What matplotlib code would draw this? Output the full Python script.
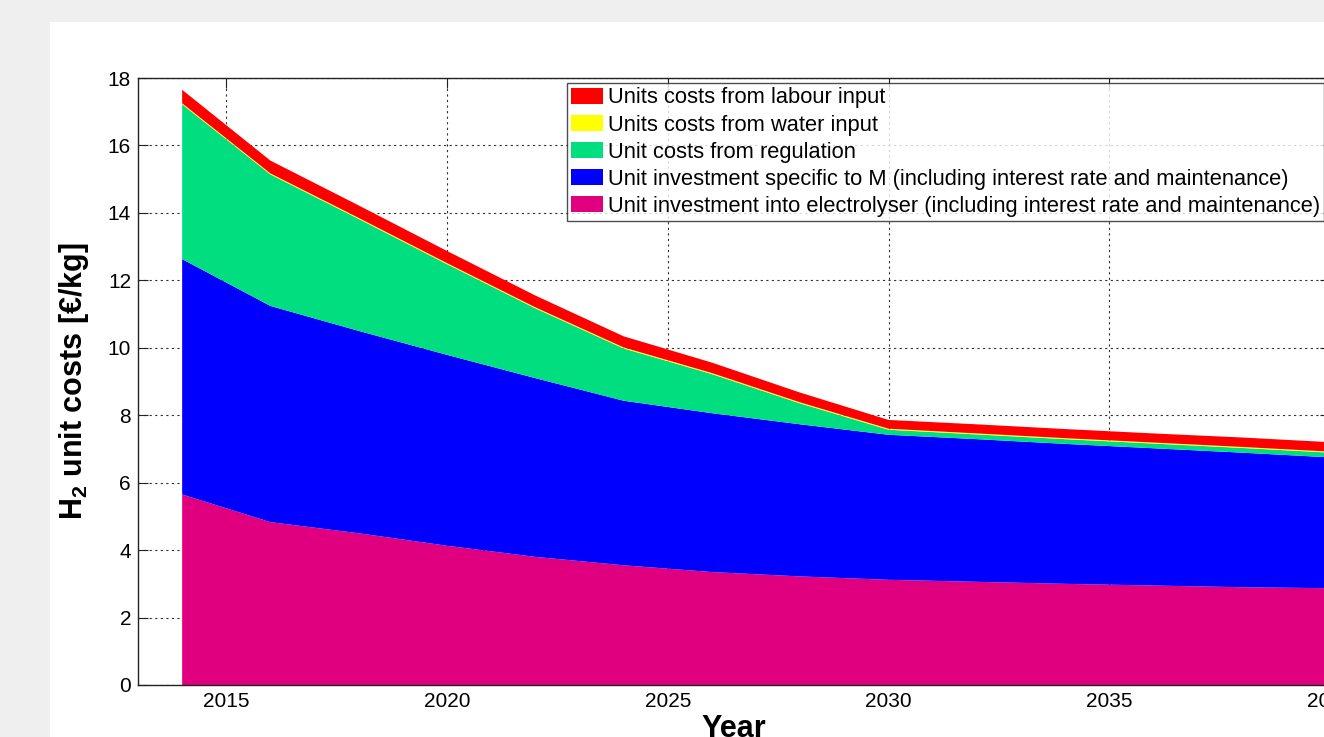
import matplotlib
matplotlib.use("Agg")
import matplotlib.pyplot as plt
from matplotlib.patches import Rectangle
import numpy as np

plt.rcParams['font.family'] = ['Liberation Sans', 'DejaVu Sans']
plt.rcParams['mathtext.fontset'] = 'custom'
plt.rcParams['mathtext.rm'] = 'Liberation Sans'
plt.rcParams['mathtext.bf'] = 'Liberation Sans:bold'

# Cost components per year [EUR/kg H2]
years = [2014, 2016, 2018, 2020, 2022, 2024, 2026, 2028, 2030, 2032, 2034, 2036, 2038, 2040]
electrolyser = [5.65, 4.83, 4.50, 4.13, 3.80, 3.55, 3.35, 3.22, 3.12, 3.06, 3.00, 2.95, 2.90, 2.87]
specific_m = [6.98, 6.41, 6.00, 5.66, 5.30, 4.88, 4.71, 4.51, 4.30, 4.23, 4.15, 4.07, 3.99, 3.88]
regulation = [4.59, 3.90, 3.32, 2.69, 2.07, 1.55, 1.16, 0.62, 0.15, 0.14, 0.14, 0.14, 0.14, 0.14]
water = [0.03, 0.03, 0.03, 0.03, 0.03, 0.03, 0.03, 0.03, 0.03, 0.03, 0.03, 0.03, 0.03, 0.03]
labour = [0.40, 0.38, 0.37, 0.36, 0.35, 0.33, 0.31, 0.29, 0.26, 0.27, 0.27, 0.27, 0.28, 0.28]

labels = [
    "Unit investment into electrolyser (including interest rate and maintenance)",
    "Unit investment specific to M (including interest rate and maintenance)",
    "Unit costs from regulation",
    "Units costs from water input",
    "Units costs from labour input",
]
colors = ["#E0007F", "#0000FF", "#00DE80", "#FFFF00", "#FF0000"]

x_ticks = [2015, 2020, 2025, 2030, 2035, 2040]
y_ticks = list(range(0, 19, 2))

W, H = 1324, 737
fig = plt.figure(figsize=(W / 100, H / 100), dpi=100, facecolor="#EFEFEF")
# white slide panel behind the chart
fig.patches.append(Rectangle((50 / W, 0), 1 - 50 / W, 1 - 22 / H,
                             transform=fig.transFigure, facecolor="white",
                             edgecolor="none", zorder=-10))

ax = fig.add_axes([138 / W, (H - 685) / H, (1330 - 138) / W, (685 - 78) / H])
ax.set_facecolor("white")

ax.stackplot(years, electrolyser, specific_m, regulation, water, labour,
             colors=colors, labels=labels, linewidth=0, zorder=2)

ax.set_xlim(2013, 2040)
ax.set_ylim(0, 18)
ax.set_xticks(x_ticks)
ax.set_yticks(y_ticks)
ax.tick_params(axis="both", which="both", direction="in", length=7, width=0.8,
               labelsize=15, top=True, right=True, pad=5, colors="#222222",
               labelcolor="black")
ax.grid(True, linestyle=(0, (2, 3)), color="#333333", linewidth=0.8)
ax.set_axisbelow(True)
for s in ax.spines.values():
    s.set_color("#222222")
    s.set_linewidth(1.0)

ax.set_xlabel("Year", fontsize=22, fontweight="bold", labelpad=2)
ax.set_ylabel(r"$\mathbf{H_2}$ unit costs [€/kg]", fontsize=22, fontweight="bold",
              labelpad=12)

handles, labs = ax.get_legend_handles_labels()
leg = fig.legend(handles[::-1], labs[::-1], loc="upper left",
                 bbox_to_anchor=(567 / W, (H - 83) / H), bbox_transform=fig.transFigure,
                 fontsize=15.75, frameon=True, fancybox=False, borderaxespad=0,
                 borderpad=0.2, handlelength=1.46, handleheight=0.73,
                 handletextpad=0.2, labelspacing=0.28)
leg.get_frame().set_edgecolor("#222222")
leg.get_frame().set_linewidth(1.0)

fig.savefig("out.png", dpi=100, facecolor=fig.get_facecolor())
